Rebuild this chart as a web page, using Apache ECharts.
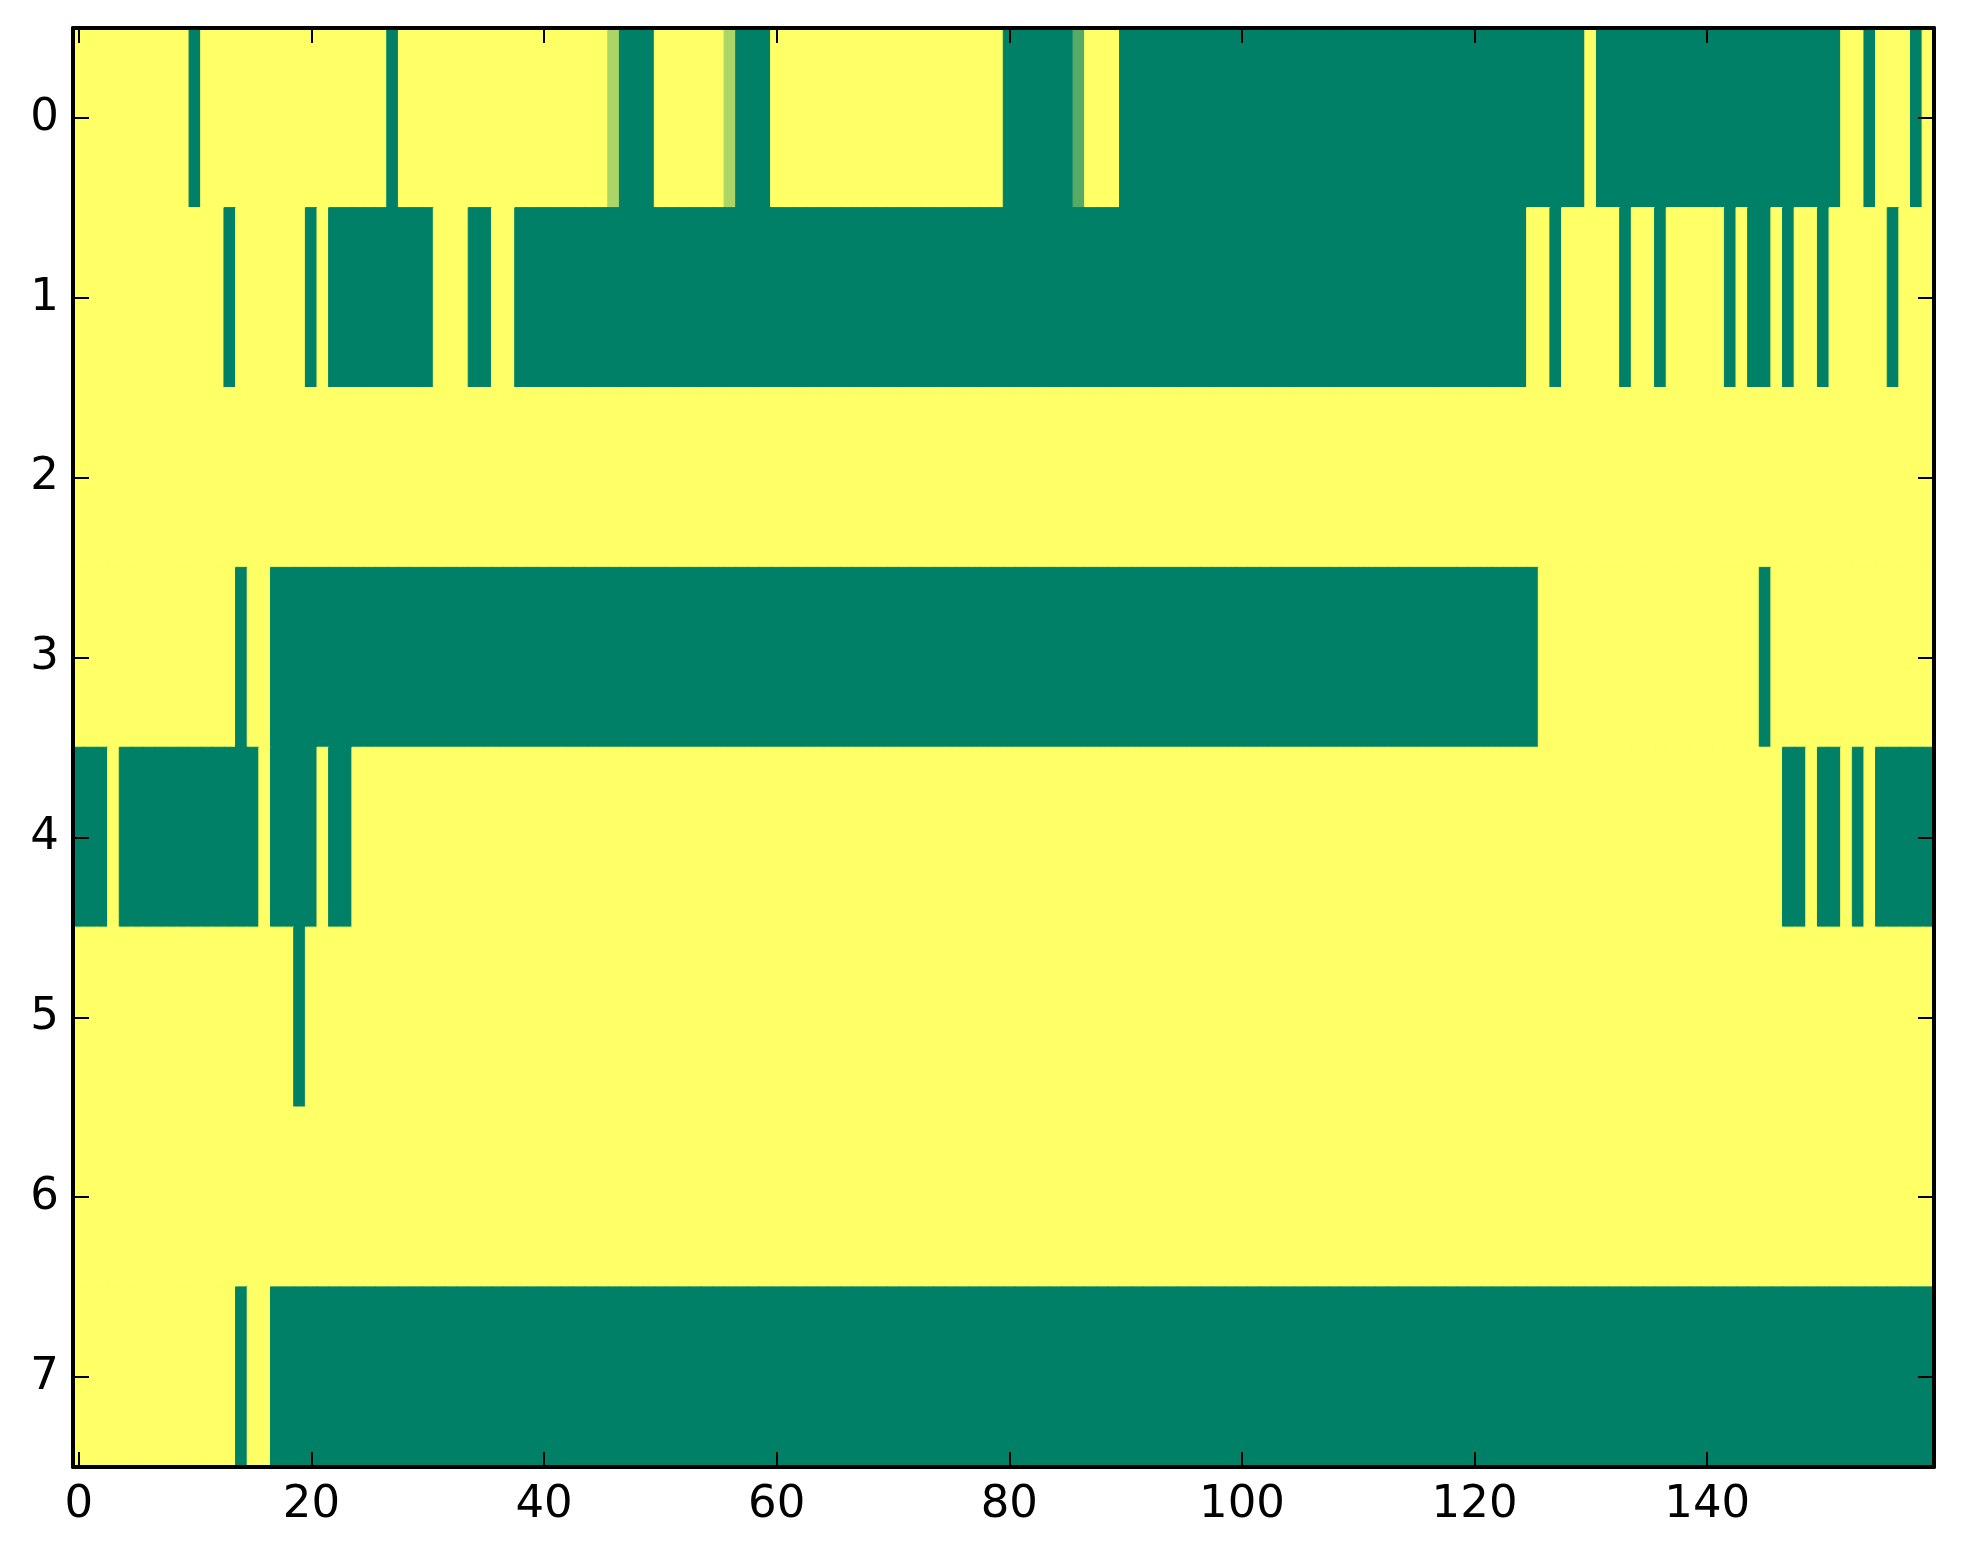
<!DOCTYPE html>
<html>
<head>
<meta charset="utf-8">
<script src="https://cdn.jsdelivr.net/npm/echarts@6/dist/echarts.min.js"></script>
<style>
html, body { margin: 0; padding: 0; background: #fff; }
#chart { width: 1963px; height: 1564px; }
</style>
</head>
<body>
<div id="chart"></div>
<script>
// one array per row of the image, 160 columns each (1 = yellow, 0 = green)
var row0 = [
	1,1,1,1,1,1,1,1,1,1, 0,1,1,1,1,1,1,1,1,1,
	1,1,1,1,1,1,1,0,1,1, 1,1,1,1,1,1,1,1,1,1,
	1,1,1,1,1,1,0.67,0,0,0, 1,1,1,1,1,1,0.67,0,0,0,
	1,1,1,1,1,1,1,1,1,1, 1,1,1,1,1,1,1,1,1,1,
	0,0,0,0,0,0,0.33,1,1,1, 0,0,0,0,0,0,0,0,0,0,
	0,0,0,0,0,0,0,0,0,0, 0,0,0,0,0,0,0,0,0,0,
	0,0,0,0,0,0,0,0,0,0, 1,0,0,0,0,0,0,0,0,0,
	0,0,0,0,0,0,0,0,0,0, 0,0,1,1,0,1,1,1,0,1
];
var row1 = [
	1,1,1,1,1,1,1,1,1,1, 1,1,1,0,1,1,1,1,1,1,
	0,1,0,0,0,0,0,0,0,0, 0,1,1,1,0,0,1,1,0,0,
	0,0,0,0,0,0,0,0,0,0, 0,0,0,0,0,0,0,0,0,0,
	0,0,0,0,0,0,0,0,0,0, 0,0,0,0,0,0,0,0,0,0,
	0,0,0,0,0,0,0,0,0,0, 0,0,0,0,0,0,0,0,0,0,
	0,0,0,0,0,0,0,0,0,0, 0,0,0,0,0,0,0,0,0,0,
	0,0,0,0,0,1,1,0,1,1, 1,1,1,0,1,1,0,1,1,1,
	1,1,0,1,0,0,1,0,1,1, 0,1,1,1,1,1,0,1,1,1
];
var row2 = [
	1,1,1,1,1,1,1,1,1,1, 1,1,1,1,1,1,1,1,1,1,
	1,1,1,1,1,1,1,1,1,1, 1,1,1,1,1,1,1,1,1,1,
	1,1,1,1,1,1,1,1,1,1, 1,1,1,1,1,1,1,1,1,1,
	1,1,1,1,1,1,1,1,1,1, 1,1,1,1,1,1,1,1,1,1,
	1,1,1,1,1,1,1,1,1,1, 1,1,1,1,1,1,1,1,1,1,
	1,1,1,1,1,1,1,1,1,1, 1,1,1,1,1,1,1,1,1,1,
	1,1,1,1,1,1,1,1,1,1, 1,1,1,1,1,1,1,1,1,1,
	1,1,1,1,1,1,1,1,1,1, 1,1,1,1,1,1,1,1,1,1
];
var row3 = [
	1,1,1,1,1,1,1,1,1,1, 1,1,1,1,0,1,1,0,0,0,
	0,0,0,0,0,0,0,0,0,0, 0,0,0,0,0,0,0,0,0,0,
	0,0,0,0,0,0,0,0,0,0, 0,0,0,0,0,0,0,0,0,0,
	0,0,0,0,0,0,0,0,0,0, 0,0,0,0,0,0,0,0,0,0,
	0,0,0,0,0,0,0,0,0,0, 0,0,0,0,0,0,0,0,0,0,
	0,0,0,0,0,0,0,0,0,0, 0,0,0,0,0,0,0,0,0,0,
	0,0,0,0,0,0,1,1,1,1, 1,1,1,1,1,1,1,1,1,1,
	1,1,1,1,1,0,1,1,1,1, 1,1,1,1,1,1,1,1,1,1
];
var row4 = [
	0,0,0,1,0,0,0,0,0,0, 0,0,0,0,0,0,1,0,0,0,
	0,1,0,0,1,1,1,1,1,1, 1,1,1,1,1,1,1,1,1,1,
	1,1,1,1,1,1,1,1,1,1, 1,1,1,1,1,1,1,1,1,1,
	1,1,1,1,1,1,1,1,1,1, 1,1,1,1,1,1,1,1,1,1,
	1,1,1,1,1,1,1,1,1,1, 1,1,1,1,1,1,1,1,1,1,
	1,1,1,1,1,1,1,1,1,1, 1,1,1,1,1,1,1,1,1,1,
	1,1,1,1,1,1,1,1,1,1, 1,1,1,1,1,1,1,1,1,1,
	1,1,1,1,1,1,1,0,0,1, 0,0,1,0,1,0,0,0,0,0
];
var row5 = [
	1,1,1,1,1,1,1,1,1,1, 1,1,1,1,1,1,1,1,1,0,
	1,1,1,1,1,1,1,1,1,1, 1,1,1,1,1,1,1,1,1,1,
	1,1,1,1,1,1,1,1,1,1, 1,1,1,1,1,1,1,1,1,1,
	1,1,1,1,1,1,1,1,1,1, 1,1,1,1,1,1,1,1,1,1,
	1,1,1,1,1,1,1,1,1,1, 1,1,1,1,1,1,1,1,1,1,
	1,1,1,1,1,1,1,1,1,1, 1,1,1,1,1,1,1,1,1,1,
	1,1,1,1,1,1,1,1,1,1, 1,1,1,1,1,1,1,1,1,1,
	1,1,1,1,1,1,1,1,1,1, 1,1,1,1,1,1,1,1,1,1
];
var row6 = [
	1,1,1,1,1,1,1,1,1,1, 1,1,1,1,1,1,1,1,1,1,
	1,1,1,1,1,1,1,1,1,1, 1,1,1,1,1,1,1,1,1,1,
	1,1,1,1,1,1,1,1,1,1, 1,1,1,1,1,1,1,1,1,1,
	1,1,1,1,1,1,1,1,1,1, 1,1,1,1,1,1,1,1,1,1,
	1,1,1,1,1,1,1,1,1,1, 1,1,1,1,1,1,1,1,1,1,
	1,1,1,1,1,1,1,1,1,1, 1,1,1,1,1,1,1,1,1,1,
	1,1,1,1,1,1,1,1,1,1, 1,1,1,1,1,1,1,1,1,1,
	1,1,1,1,1,1,1,1,1,1, 1,1,1,1,1,1,1,1,1,1
];
var row7 = [
	1,1,1,1,1,1,1,1,1,1, 1,1,1,1,0,1,1,0,0,0,
	0,0,0,0,0,0,0,0,0,0, 0,0,0,0,0,0,0,0,0,0,
	0,0,0,0,0,0,0,0,0,0, 0,0,0,0,0,0,0,0,0,0,
	0,0,0,0,0,0,0,0,0,0, 0,0,0,0,0,0,0,0,0,0,
	0,0,0,0,0,0,0,0,0,0, 0,0,0,0,0,0,0,0,0,0,
	0,0,0,0,0,0,0,0,0,0, 0,0,0,0,0,0,0,0,0,0,
	0,0,0,0,0,0,0,0,0,0, 0,0,0,0,0,0,0,0,0,0,
	0,0,0,0,0,0,0,0,0,0, 0,0,0,0,0,0,0,0,0,0
];

var rowLabels = ['0', '1', '2', '3', '4', '5', '6', '7'];
var xTickLabels = ['0', '20', '40', '60', '80', '100', '120', '140'];

// "summer" colour map ends: value 0 -> green, value 1 -> yellow
var colorStops = ['#008066', '#ffff66'];

var rows = [row0, row1, row2, row3, row4, row5, row6, row7];

// column categories, one per cell
var columns = [];
for (var c = 0; c < row0.length; c++) {
	columns.push(String(c));
}

// border in the fill colour closes the hairline seams between cells
var cells = [];
for (var r = 0; r < rows.length; r++) {
	for (var k = 0; k < rows[r].length; k++) {
		var col = echarts.color.lerp(rows[r][k], colorStops);
		cells.push({
			value: [k, r, rows[r][k]],
			itemStyle: { color: col, borderColor: col, borderWidth: 1 }
		});
	}
}

var labelFont = {
	color: '#000',
	fontFamily: 'DejaVu Sans',
	fontSize: 45
};

var axisLine = { show: true, onZero: false, lineStyle: { color: '#000', width: 4 } };

var showTick = function (idx, val) {
	return xTickLabels.indexOf(val) >= 0;
};

var chart = echarts.init(document.getElementById('chart'), null, { renderer: 'canvas' });

chart.setOption({
	backgroundColor: '#fff',
	animation: false,
	grid: {
		left: 73,
		top: 28,
		width: 1861,
		height: 1439,
		containLabel: false
	},
	xAxis: [{
		type: 'category',
		position: 'bottom',
		data: columns,
		z: 10,
		axisLine: axisLine,
		splitLine: { show: false },
		axisTick: {
			show: true, inside: true, length: 15, alignWithLabel: true,
			interval: showTick,
			lineStyle: { color: '#000', width: 2 }
		},
		axisLabel: Object.assign({ margin: 16, interval: showTick }, labelFont)
	}, {
		type: 'category',
		position: 'top',
		data: columns,
		z: 10,
		axisLine: axisLine,
		splitLine: { show: false },
		axisTick: {
			show: true, inside: true, length: 15, alignWithLabel: true,
			interval: showTick,
			lineStyle: { color: '#000', width: 2 }
		},
		axisLabel: { show: false }
	}],
	yAxis: [{
		type: 'category',
		position: 'left',
		inverse: true,
		data: rowLabels,
		z: 10,
		axisLine: axisLine,
		splitLine: { show: false },
		axisTick: {
			show: true, inside: true, length: 16, alignWithLabel: true, interval: 0,
			lineStyle: { color: '#000', width: 2 }
		},
		axisLabel: Object.assign({ margin: 14, interval: 0 }, labelFont)
	}, {
		type: 'category',
		position: 'right',
		inverse: true,
		data: rowLabels,
		z: 10,
		axisLine: axisLine,
		splitLine: { show: false },
		axisTick: {
			show: true, inside: true, length: 16, alignWithLabel: true, interval: 0,
			lineStyle: { color: '#000', width: 2 }
		},
		axisLabel: { show: false }
	}],
	series: [{
		type: 'heatmap',
		xAxisIndex: 0,
		yAxisIndex: 0,
		data: cells,
		emphasis: { disabled: true },
		progressive: 0
	}]
});
</script>
</body>
</html>
